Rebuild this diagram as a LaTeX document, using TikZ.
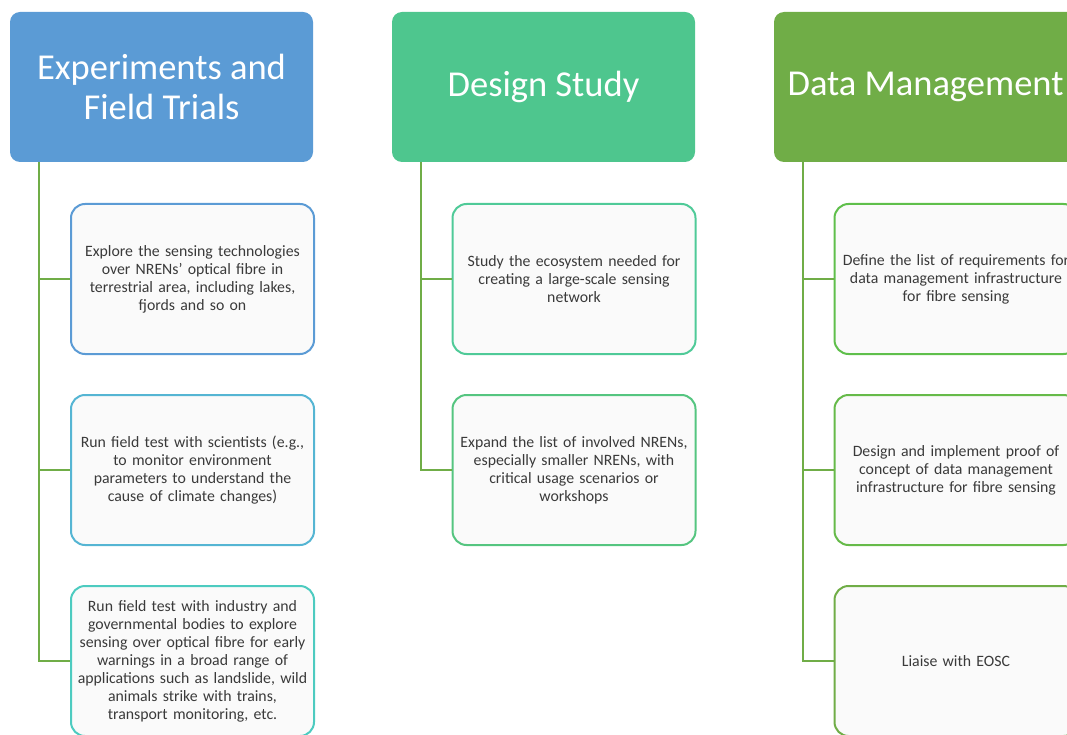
\documentclass[tikz,border=0pt]{standalone}
\usepackage{fontspec}
\setmainfont{Carlito}
\usepackage{xcolor}
\usetikzlibrary{calc}

\definecolor{headblue}{HTML}{5B9BD5}
\definecolor{headteal}{HTML}{4EC68E}
\definecolor{headgreen}{HTML}{70AD47}
\definecolor{edgeblue}{HTML}{5B9BD5}
\definecolor{edgecyan}{HTML}{55B5D3}
\definecolor{edgeaqua}{HTML}{4DCBC0}
\definecolor{edgemint}{HTML}{4FCA98}
\definecolor{edgejade}{HTML}{55C580}
\definecolor{edgelime}{HTML}{5FBF4B}
\definecolor{edgeleaf}{HTML}{66BA49}
\definecolor{linkgreen}{HTML}{70AD47}
\definecolor{boxfill}{HTML}{FAFAFA}
\definecolor{bodytext}{HTML}{3A3A3A}

\tikzset{
	head/.style = {fill = #1, rounded corners = 10, minimum width = 303, minimum height = 150,
		inner sep = 0, align = center, text = white, font = \fontsize{36.5}{40}\selectfont},
	task/.style = {draw = #1, line width = 2, fill = boxfill, rounded corners = 14,
		minimum width = 243, minimum height = 150, text width = 236, inner sep = 2, align = center,
		text = bodytext, font = \fontsize{15.8}{18}\selectfont},
	link/.style = {draw = linkgreen, line width = 2}
}

\begin{document}
\begin{tikzpicture}[x = 1pt, y = -1pt]
		%variables
		\def\colA{192.5};
		\def\colB{574};
		\def\colC{956};
		\def\rowA{279};
		\def\rowB{470};
		\def\rowC{661};

		%frame
		\useasboundingbox (0,0) rectangle (1067,735);
		\clip (0,0) rectangle (1067,735);

		%headers
		\node [head = headblue] (exp) at (161.5, 87) {Experiments and\\Field Trials};
		\node [head = headteal] (design) at (543.5, 87) {Design Study};
		\node [head = headgreen] (data) at (925.5, 87) {Data Management};

		%experiments and field trials
		\node [task = edgeblue] (explore) at (\colA, \rowA) {Explore the sensing technologies\\over NRENs' optical fibre in\\terrestrial area, including lakes,\\fjords and so on};
		\node [task = edgecyan] (science) at (\colA, \rowB) {Run field test with scientists (e.g.,\\to monitor environment\\parameters to understand the\\cause of climate changes)};
		\node [task = edgeaqua] (industry) at (\colA, \rowC) {Run field test with industry and\\governmental bodies to explore\\sensing over optical fibre for early\\warnings in a broad range of\\applications such as landslide, wild\\animals strike with trains,\\transport monitoring, etc.};

		%design study
		\node [task = edgemint] (ecosystem) at (\colB, \rowA) {Study the ecosystem needed for\\creating a large-scale sensing\\network};
		\node [task = edgejade] (expand) at (\colB, \rowB) {Expand the list of involved NRENs,\\especially smaller NRENs, with\\critical usage scenarios or\\workshops};

		%data management
		\node [task = edgelime] (require) at (\colC, \rowA) {Define the list of requirements for\\data management infrastructure\\for fibre sensing};
		\node [task = edgeleaf] (proof) at (\colC, \rowB) {Design and implement proof of\\concept of data management\\infrastructure for fibre sensing};
		\node [task = headgreen] (eosc) at (\colC, \rowC) {Liaise with EOSC};

		%connectors
		\coordinate (expTrunk) at ($(exp.south west) + (29,0)$);
		\coordinate (designTrunk) at ($(design.south west) + (29,0)$);
		\coordinate (dataTrunk) at ($(data.south west) + (29,0)$);

		\draw [link] (expTrunk) |- (explore.west);
		\draw [link] (expTrunk) |- (science.west);
		\draw [link] (expTrunk) |- (industry.west);

		\draw [link] (designTrunk) |- (ecosystem.west);
		\draw [link] (designTrunk) |- (expand.west);

		\draw [link] (dataTrunk) |- (require.west);
		\draw [link] (dataTrunk) |- (proof.west);
		\draw [link] (dataTrunk) |- (eosc.west);
	\end{tikzpicture}
\end{document}
